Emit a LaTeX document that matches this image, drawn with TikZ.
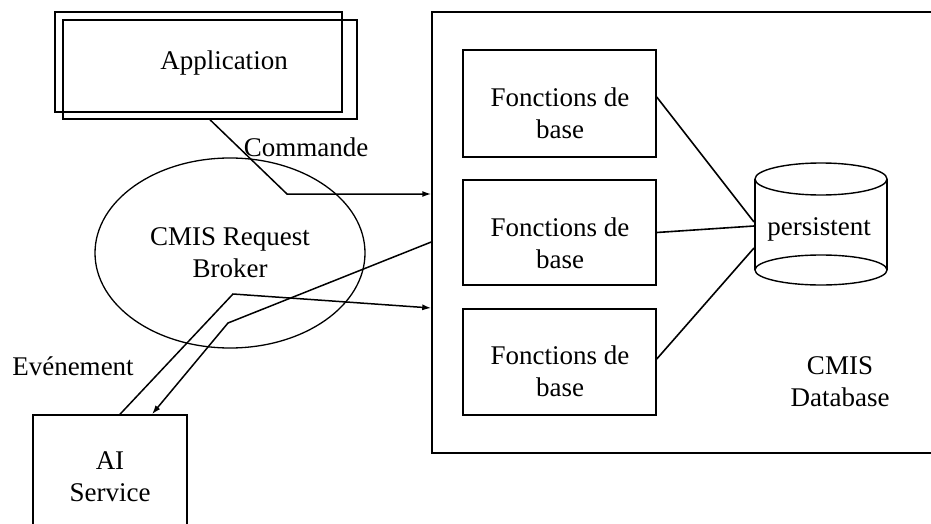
\documentclass[tikz,border=0pt]{standalone}
\usepackage{fontspec}
\setmainfont{Liberation Serif}
\usetikzlibrary{arrows.meta,shapes.geometric}
\begin{document}
\begin{tikzpicture}[x=1pt,y=-1pt,
  every node/.style={font=\fontsize{27}{32}\selectfont, align=center},
  box/.style={draw, line width=1.5pt, inner sep=0pt},
  txt/.style={inner sep=0pt},
  conn/.style={line width=1.6pt},
  arr/.style={line width=1.5pt, -{Latex[length=9pt,width=6pt]}}]
\useasboundingbox (0,0) rectangle (931,524);
\clip (0,0) rectangle (931,524);
\fill[white] (0,0) rectangle (931,524);

% Application (double frame)
\node[box, minimum width=287pt, minimum height=100pt] (app1) at (198.5,62) {};
\node[box, minimum width=294pt, minimum height=99pt] (app2) at (210,69.5) {};
\node[txt] (apptxt) at (224,63) {Application};

% CMIS Request Broker
\node[ellipse, draw, line width=1.3pt, minimum width=270pt, minimum height=190pt, inner sep=0pt] (broker) at (230,253) {CMIS Request\\Broker};

% CMIS Database frame
\node[box, minimum width=503pt, minimum height=441pt] (db) at (683.5,232.5) {};
\node[txt] (dbtxt) at (840,382) {CMIS\\Database};

% Fonctions de base
\node[box, minimum width=193pt, minimum height=107pt] (f1) at (559.5,103.5) {};
\node[txt] (f1t) at (560,113.5) {Fonctions de\\base};
\node[box, minimum width=193pt, minimum height=105pt] (f2) at (559.5,232.5) {};
\node[txt] (f2t) at (560,243) {Fonctions de\\base};
\node[box, minimum width=193pt, minimum height=106pt] (f3) at (559.5,362) {};
\node[txt] (f3t) at (560,371) {Fonctions de\\base};

% persistent cylinder
\coordinate (cyl) at (821,224);
\draw[line width=1.4pt] (755,179) -- (755,270) (887,179) -- (887,270);
\draw[line width=1.4pt] (821,179) ellipse [x radius=66pt, y radius=16pt];
\draw[line width=1.4pt] (821,270) ellipse [x radius=66pt, y radius=15pt];
\node[txt] (pers) at (819,229) {persistent};
\coordinate (cylA) at (754,222);
\coordinate (cylB) at (754,226);
\coordinate (cylC) at (754,248);

\draw[conn] ([yshift=6.5pt]f1.east) -- (cylA);
\draw[conn] (f2.east) -- (cylB);
\draw[conn] ([yshift=3pt]f3.east) -- (cylC);

% AI Service
\node[box, minimum width=154pt, minimum height=126pt] (ai) at (110,478) {};
\node[txt] (aitxt) at (110,477) {AI\\Service};

% Commande
\coordinate (k1) at (287,194);
\draw[arr] (app2.south) -- (k1) -- ([yshift=38.5pt]db.west);
\node[txt] (cmd) at (306,147) {Commande};

% Broker <-> AI Service
\coordinate (b1) at (233,294);
\draw[arr] ([xshift=10pt]ai.north) -- (b1) -- ([yshift=-75.5pt]db.west);
\coordinate (b2) at (228,323);
\draw[arr] ([yshift=-9.5pt]db.west) -- (b2) -- ([xshift=42pt]ai.north);
\node[txt] (evt) at (73,366) {Evénement};
\end{tikzpicture}
\end{document}
